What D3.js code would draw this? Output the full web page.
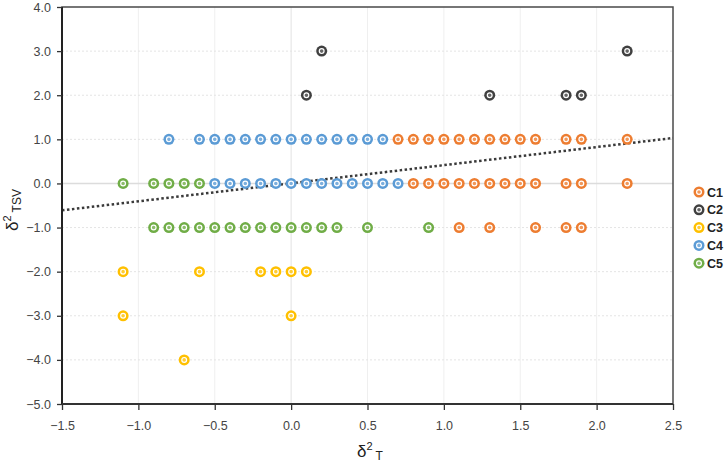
<!DOCTYPE html>
<html><head><meta charset="utf-8">
<script src="https://cdn.jsdelivr.net/npm/d3@7"></script>
<style>body{margin:0;background:#fff;}svg{display:block;font-family:"Liberation Sans",Arial,sans-serif;}</style>
</head><body>
<svg id="c" width="724" height="463"></svg>
<script>
const seriesNames = ["C1","C2","C3","C4","C5"];
const seriesColors = ["#ED7D31","#404040","#FFC000","#5B9BD5","#70AD47"];
const c1x = [0.7,0.8,0.9,1.0,1.1,1.2,1.3,1.4,1.5,1.6,1.8,1.9,2.2, 0.8,0.9,1.0,1.1,1.2,1.3,1.4,1.5,1.6,1.8,1.9,2.2, 1.1,1.3,1.6,1.8,1.9];
const c1y = [1,1,1,1,1,1,1,1,1,1,1,1,1, 0,0,0,0,0,0,0,0,0,0,0,0, -1,-1,-1,-1,-1];
const c2x = [0.2,2.2,0.1,1.3,1.8,1.9];
const c2y = [3,3,2,2,2,2];
const c3x = [-1.1,-0.6,-0.2,-0.1,0.0,0.1,-1.1,0.0,-0.7];
const c3y = [-2,-2,-2,-2,-2,-2,-3,-3,-4];
const c4x = [-0.8,-0.6,-0.5,-0.4,-0.3,-0.2,-0.1,0.0,0.1,0.2,0.3,0.4,0.5,0.6, -0.5,-0.4,-0.3,-0.2,-0.1,0.0,0.1,0.2,0.3,0.4,0.5,0.6,0.7];
const c4y = [1,1,1,1,1,1,1,1,1,1,1,1,1,1, 0,0,0,0,0,0,0,0,0,0,0,0,0];
const c5x = [-1.1,-0.9,-0.8,-0.7,-0.6, -0.9,-0.8,-0.7,-0.6,-0.5,-0.4,-0.3,-0.2,-0.1,0.0,0.1,0.2,0.3,0.5,0.9];
const c5y = [0,0,0,0,0, -1,-1,-1,-1,-1,-1,-1,-1,-1,-1,-1,-1,-1,-1,-1];
const xTicks = [-1.5,-1.0,-0.5,0.0,0.5,1.0,1.5,2.0,2.5];
const yTicks = [4,3,2,1,0,-1,-2,-3,-4,-5];
const trendSlope = 0.41, trendIntercept = 0.005;

const seriesX = [c1x,c2x,c3x,c4x,c5x], seriesY = [c1y,c2y,c3y,c4y,c5y];
const svg = d3.select("#c");
const L=62,R=673,T=7,B=404;
const x = d3.scaleLinear().domain([-1.5,2.5]).range([L,R]);
const y = d3.scaleLinear().domain([-5,4]).range([B,T]);

// grid
const g = svg.append("g");
g.selectAll(".vg").data(xTicks.slice(1,-1)).join("line")
 .attr("x1",d=>x(d)).attr("x2",d=>x(d)).attr("y1",T).attr("y2",B)
 .attr("stroke",d=>d===0?"#e2e2e2":"#efefef").attr("stroke-width",1);
g.selectAll(".hg").data(yTicks.slice(1,-1)).join("line")
 .attr("x1",L).attr("x2",R).attr("y1",d=>y(d)).attr("y2",d=>y(d))
 .attr("stroke",d=>d===0?"#dcdcdc":"#e4e4e4").attr("stroke-width",d=>d===0?1.5:1)
 .attr("stroke-dasharray",d=>d===0?null:"2,2");

// trend line
svg.append("line").attr("x1",x(-1.5)).attr("y1",y(trendIntercept+trendSlope*-1.5))
 .attr("x2",x(2.5)).attr("y2",y(trendIntercept+trendSlope*2.5))
 .attr("stroke","#3a3a3a").attr("stroke-width",2.5).attr("stroke-dasharray","2.5,2.5");

// frame
svg.append("rect").attr("x",L).attr("y",T).attr("width",R-L).attr("height",B-T)
 .attr("fill","none").attr("stroke","#4a4a4a").attr("stroke-width",1.5);
svg.append("line").attr("x1",L).attr("x2",L).attr("y1",T).attr("y2",B).attr("stroke","#222").attr("stroke-width",2);
svg.append("line").attr("x1",L).attr("x2",R).attr("y1",B).attr("y2",B).attr("stroke","#333").attr("stroke-width",2);

// axes
const xa = svg.append("g").attr("transform",`translate(0,${B})`)
 .call(d3.axisBottom(x).tickValues(xTicks).tickFormat(d3.format(".1f")).tickSize(6).tickSizeOuter(0));
const ya = svg.append("g").attr("transform",`translate(${L},0)`)
 .call(d3.axisLeft(y).tickValues(yTicks).tickFormat(d3.format(".1f")).tickSize(5).tickSizeOuter(0));
[xa,ya].forEach(a=>{a.select(".domain").remove();
 a.selectAll(".tick line").attr("stroke","#333").attr("stroke-width",1.3);
 a.selectAll(".tick text").attr("fill","#444").attr("font-size",12.5).attr("font-family","'Liberation Sans',Arial,sans-serif");});
xa.selectAll(".tick text").attr("dy","1.35em");
ya.selectAll(".tick text").attr("dx","-0.25em");

// points
function marker(sel,color){
  sel.append("circle").attr("r",5.5).attr("fill",color);
  sel.append("circle").attr("r",2.4).attr("fill",d3.interpolateRgb(color,"#fff")(0.2)).attr("stroke","#fff").attr("stroke-width",1.2);
}
seriesNames.forEach((n,i)=>{
  const pts = seriesX[i].map((v,k)=>({x:v,y:seriesY[i][k]}));
  svg.append("g").selectAll("g").data(pts).join("g")
   .attr("transform",d=>`translate(${x(d.x)},${y(d.y)})`)
   .each(function(){marker(d3.select(this),seriesColors[i]);});
});

// legend
const lg = svg.append("g");
seriesNames.forEach((n,i)=>{
  const it = lg.append("g").attr("transform",`translate(699,${192+i*17.8})`);
  marker(it,seriesColors[i]);
  it.append("text").attr("x",8).attr("y",4.5).text(n).attr("font-weight","bold").attr("font-size",12.5).attr("fill","#222");
});

// axis titles
const xt = svg.append("text").attr("x",357).attr("y",457).attr("fill","#222").attr("font-size",17);
xt.append("tspan").text("δ");
xt.append("tspan").text("2").attr("font-size",11).attr("dy",-7);
xt.append("tspan").text("T").attr("font-size",12).attr("dx",3).attr("dy",10);
const yt = svg.append("text").attr("transform","translate(18,231) rotate(-90)").attr("fill","#222").attr("font-size",17);
yt.append("tspan").text("δ");
yt.append("tspan").text("2").attr("font-size",11).attr("dy",-7);
yt.append("tspan").text("TSV").attr("font-size",12).attr("dx",3).attr("dy",10);
</script>
</body></html>
